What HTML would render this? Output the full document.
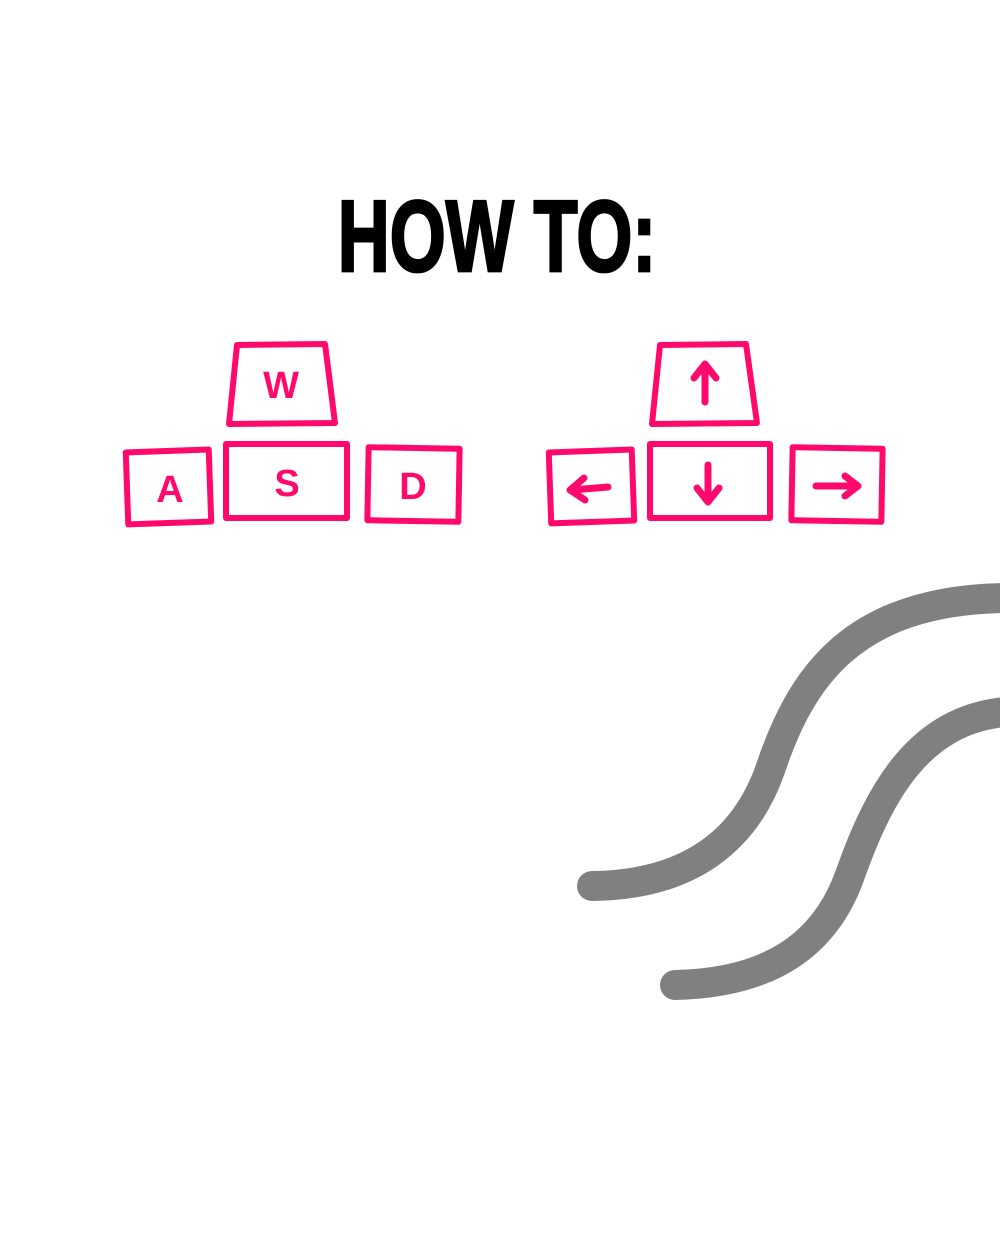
<!DOCTYPE html>
<html><head><meta charset="utf-8"><style>
html,body{margin:0;padding:0;background:#fff;width:1000px;height:1250px;overflow:hidden}
svg{display:block}
</style></head><body>
<svg width="1000" height="1250" viewBox="0 0 1000 1250">
<rect width="1000" height="1250" fill="#fff"/>
<g transform="translate(497,271) scale(1,1.4)">
<text x="0" y="0" text-anchor="middle" font-family="Liberation Sans, sans-serif" font-weight="bold" font-size="72" fill="#000" stroke="#000" stroke-width="2" letter-spacing="0">HOW TO:</text>
</g>
<g fill="none" stroke="#ff0a6c" stroke-width="6" stroke-linejoin="round" stroke-linecap="round">
<path d="M237,345 L325,344 L335,423 L229,424 Z"/>
<rect x="127" y="451" width="83" height="72" transform="rotate(-2 168 487)"/>
<rect x="226" y="444" width="121" height="74"/>
<rect x="368" y="448" width="91" height="73" transform="rotate(1 413 484)"/>
<path d="M660,345 L746,344 L757,423 L652,424 Z"/>
<rect x="550" y="451" width="83" height="71" transform="rotate(-2 591 487)"/>
<rect x="650" y="444" width="120" height="74"/>
<rect x="792" y="448" width="90" height="73" transform="rotate(1 837 484)"/>
</g>
<g font-family="Liberation Sans, sans-serif" font-weight="bold" font-size="38" fill="#ff0a6c" text-anchor="middle">
<text x="281" y="398">W</text>
<text x="170" y="502">A</text>
<text x="287" y="496">S</text>
<text x="413" y="499">D</text>
</g>
<g stroke="#ff0a6c" stroke-width="7" fill="none" stroke-linecap="round" stroke-linejoin="round">
<path d="M705,402 L705,366 M694,378 L705,364 L716,378"/>
<path d="M708,465 L708,500 M697,488 L708,502 L719,488"/>
<path d="M608,487 L572,490 M584,478 L570,490 L585,500"/>
<path d="M816,486 L856,486 M845,476 L858,486 L845,496"/>
</g>
<g fill="none" stroke="#808080" stroke-width="30" stroke-linecap="round">
<path d="M592,886 C690,885 745,840 770,770 C800,680 850,600 1005,598"/>
<path d="M675,985 C770,983 825,945 850,875 C880,790 920,720 1005,712"/>
</g>
</svg>
</body></html>
